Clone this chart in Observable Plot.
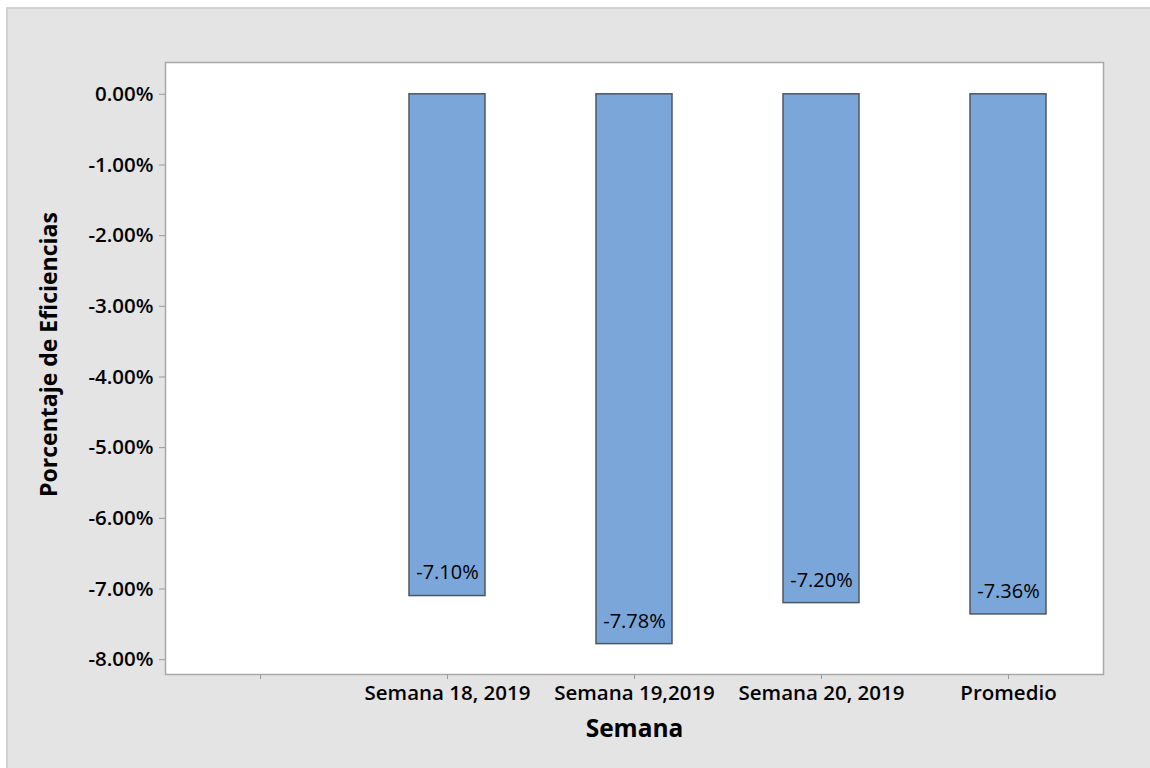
<!DOCTYPE html>
<html>
<head>
<meta charset="utf-8">
<script src="https://cdn.jsdelivr.net/npm/d3@7"></script>
<script src="https://cdn.jsdelivr.net/npm/@observablehq/plot@0.6"></script>
<style>
  html, body { margin: 0; padding: 0; background: #ffffff; width: 1150px; height: 768px; overflow: hidden; }
  #panel { position: absolute; left: 6px; top: 7px; right: 0; bottom: 0; background: #e4e4e4; border-top: 2px solid #d2d2d2; border-left: 2px solid #d2d2d2; }
  #chart { position: absolute; left: 0; top: 0; }
</style>
</head>
<body>
<div id="panel"></div>
<div id="chart"></div>
<script>
const categories = ["", "Semana 18, 2019", "Semana 19,2019", "Semana 20, 2019", "Promedio"];
const barCategories = ["Semana 18, 2019", "Semana 19,2019", "Semana 20, 2019", "Promedio"];
const values = [-7.10, -7.78, -7.20, -7.36];
const valueLabels = ["-7.10%", "-7.78%", "-7.20%", "-7.36%"];
const yTicks = [0, -1, -2, -3, -4, -5, -6, -7, -8];

const data = barCategories.map((c, i) => ({cat: c, value: values[i], label: valueLabels[i]}));

const font = "'Open Sans', 'Noto Sans', sans-serif";

const plot = Plot.plot({
  width: 1150,
  height: 768,
  marginLeft: 165,
  marginTop: 62,
  marginRight: 47,
  marginBottom: 94,
  style: {background: "transparent", fontFamily: font, color: "#000"},
  x: {domain: categories, paddingInner: 0.595, paddingOuter: 0.2975},
  y: {domain: [-8.21, 0.45]},
  marks: [
    Plot.frame({fill: "white", stroke: "#a8a8a8", strokeWidth: 1.5}),
    Plot.axisY({
      ticks: yTicks, tickFormat: d => d.toFixed(2) + "%",
      tickSize: 6, tickPadding: 6, stroke: "#999", fontSize: 20.5, fontWeight: 600,
      label: "Porcentaje de Eficiencias", labelAnchor: "center", labelArrow: "none", labelOffset: 125
    }),
    Plot.axisX({
      tickSize: 5, tickPadding: 6, stroke: "#999", fontSize: 20.5, fontWeight: 600,
      label: "Semana", labelAnchor: "center", labelArrow: "none", labelOffset: 62
    }),
    Plot.barY(data, {x: "cat", y: "value", fill: "#7ba6d9", stroke: "#4f5660", strokeWidth: 1.5}),
    Plot.text(data, {x: "cat", y: "value", text: "label", dy: -23, fontSize: 20, fill: "#000"})
  ]
});
document.getElementById("chart").appendChild(plot);
// style axis labels (bigger)
plot.querySelectorAll("g[aria-label='y-axis label'] text").forEach(t => {
  t.setAttribute("font-size", "23");
  t.setAttribute("font-weight", "bold");
});
plot.querySelectorAll("g[aria-label='x-axis label'] text").forEach(t => {
  t.setAttribute("font-size", "24.5");
  t.setAttribute("font-weight", "bold");
});
const yl = plot.querySelector("g[aria-label='y-axis label']");
if (yl) yl.setAttribute("transform", (yl.getAttribute("transform") || "") + " translate(0,-14)");
</script>
</body>
</html>
